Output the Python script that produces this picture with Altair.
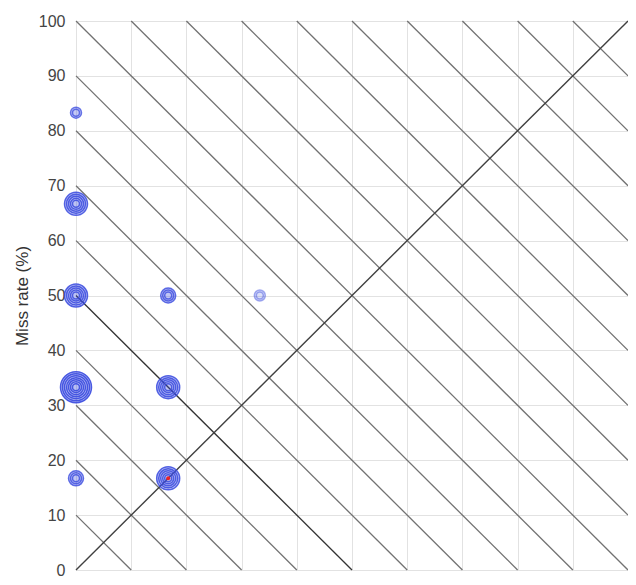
import altair as alt
import pandas as pd

# iso-cost lines: false-alarm + miss = c
iso_levels = [10, 20, 30, 40, 50, 60, 70, 80, 90, 100, 110, 120, 130, 140, 150, 160, 170, 180, 190]
highlight_level = 50

# observed points (false alarm %, miss %), number of stacked rings
pt_x = [0, 0, 0, 0, 0, 16.7, 16.7, 16.7, 33.3]
pt_y = [83.3, 66.7, 50.0, 33.3, 16.7, 50.0, 33.3, 16.7, 50.0]
pt_n = [2, 5, 5, 7, 3, 3, 5, 5, 2]
pt_op = [0.75, 0.85, 0.85, 0.9, 0.8, 0.8, 0.85, 0.85, 0.45]

# red marker (operating point)
red_x = [16.7]
red_y = [16.7]

y_ticks = list(range(0, 101, 10))

iso_rows = []
for c in iso_levels:
    iso_rows.append({
        "x": max(0, c - 100), "y": min(100, c),
        "x2": min(100, c), "y2": max(0, c - 100),
        "hl": c == highlight_level,
    })
iso_df = pd.DataFrame(iso_rows)
diag_df = pd.DataFrame({"x": [0], "y": [0], "x2": [100], "y2": [100]})

ring_rows = []
disc_rows = []
for x, y, n, op in zip(pt_x, pt_y, pt_n, pt_op):
    for k in range(1, n + 1):
        r = 1.5 + 2.0 * k
        ring_rows.append({"x": x, "y": y, "size": (2 * r) ** 2, "op": op})
    disc_rows.append({"x": x, "y": y, "size": (2 * (1.5 + 2.0 * n)) ** 2, "op": op * 0.4})
ring_df = pd.DataFrame(ring_rows)
disc_df = pd.DataFrame(disc_rows)
red_df = pd.DataFrame({"x": red_x, "y": red_y})

xs = alt.Scale(domain=[0, 100], nice=False, zero=False)
ys = alt.Scale(domain=[0, 100], nice=False, zero=False)

xax = alt.Axis(values=y_ticks, labels=False, ticks=False, title=None, domain=False,
               grid=True, gridColor="#e2e2e2", gridWidth=1)
yax = alt.Axis(values=y_ticks, ticks=False, domain=False, grid=True, gridColor="#e2e2e2",
               gridWidth=1, labelFont="Liberation Sans", labelFontSize=16, labelColor="#444",
               labelPadding=11, title="Miss rate (%)", titleFont="Liberation Sans",
               titleFontSize=17, titleFontWeight="normal", titleColor="#333", titlePadding=7)

base_grid = alt.Chart(diag_df).mark_point(opacity=0).encode(
    x=alt.X("x:Q", scale=xs, axis=xax),
    y=alt.Y("y:Q", scale=ys, axis=yax),
)

iso = alt.Chart(iso_df).mark_rule(strokeWidth=1.3).encode(
    x=alt.X("x:Q", scale=xs),
    y=alt.Y("y:Q", scale=ys),
    x2="x2:Q",
    y2="y2:Q",
    color=alt.condition("datum.hl", alt.value("#333333"), alt.value("#727272")),
    strokeWidth=alt.condition("datum.hl", alt.value(1.6), alt.value(1.3)),
)

diag = alt.Chart(diag_df).mark_rule(color="#404040", strokeWidth=1.4).encode(
    x=alt.X("x:Q", scale=xs), y=alt.Y("y:Q", scale=ys), x2="x2:Q", y2="y2:Q"
)

discs = alt.Chart(disc_df).mark_point(shape="circle", filled=True, color="#3a4be0",
                                      strokeWidth=0).encode(
    x=alt.X("x:Q", scale=xs),
    y=alt.Y("y:Q", scale=ys),
    size=alt.Size("size:Q", scale=None, legend=None),
    opacity=alt.Opacity("op:Q", scale=None, legend=None),
)

rings = alt.Chart(ring_df).mark_point(shape="circle", filled=False, color="#3a4be0",
                                      strokeWidth=1.5).encode(
    x=alt.X("x:Q", scale=xs),
    y=alt.Y("y:Q", scale=ys),
    size=alt.Size("size:Q", scale=None, legend=None),
    opacity=alt.Opacity("op:Q", scale=None, legend=None),
)

red = alt.Chart(red_df).mark_point(shape="circle", filled=True, color="#e8202a", size=16,
                                   opacity=1).encode(
    x=alt.X("x:Q", scale=xs), y=alt.Y("y:Q", scale=ys)
)

chart = alt.layer(base_grid, iso, diag, discs, rings, red).properties(
    width=552, height=549,
    autosize=alt.AutoSizeParams(type="none"),
    padding={"left": 68, "top": 13, "right": 0, "bottom": 7},
).configure_view(stroke="#8a8a8a", strokeWidth=1.2).configure(background="white")

chart.save("out.html", embed_options={"renderer": "svg", "actions": False})
